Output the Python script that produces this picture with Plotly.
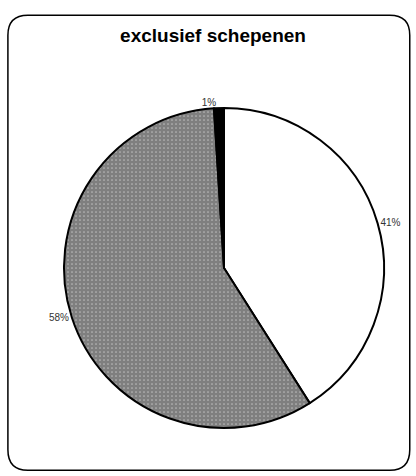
import plotly.graph_objects as go

labels = ["wit", "geruit", "zwart"]
values = [41, 58, 1]
text_labels = ["41%", "58%", "1%"]
title = "exclusief schepenen"

fig = go.Figure(go.Pie(
    labels=labels,
    values=values,
    text=text_labels,
    textinfo="text",
    textposition="outside",
    textfont=dict(family="Arial, Liberation Sans", size=10, color="#333"),
    sort=False,
    direction="clockwise",
    rotation=0,
    hoverinfo="skip",
    marker=dict(
        colors=["white", "white", "black"],
        line=dict(color="black", width=2),
        pattern=dict(shape=["", ".", ""], size=4, solidity=0.85,
                     fgcolor="black", bgcolor="white", fillmode="overlay"),
    ),
    domain=dict(x=[64 / 416, 384 / 416], y=[1 - 428 / 476, 1 - 108 / 476]),
    showlegend=False,
))

fig.update_layout(
    width=416, height=476,
    margin=dict(l=0, r=0, t=0, b=0),
    paper_bgcolor="white",
    title=dict(text="<b>" + title + "</b>", x=213 / 416, xanchor="center",
               y=1 - 35 / 476, yanchor="middle",
               font=dict(family="Arial, Liberation Sans", size=19, color="black")),
    shapes=[dict(
        type="path", xref="paper", yref="paper",
        path="M 0.067,0.968 L 0.937,0.968 Q 0.985,0.968 0.985,0.926 L 0.985,0.055 Q 0.985,0.012 0.937,0.012 L 0.067,0.012 Q 0.019,0.012 0.019,0.055 L 0.019,0.926 Q 0.019,0.968 0.067,0.968 Z",
        line=dict(color="black", width=1.5),
    )],
)

fig.write_html("out.html", config={"displayModeBar": False},
               post_script="document.body.style.margin='0';document.body.style.overflow='hidden';")
